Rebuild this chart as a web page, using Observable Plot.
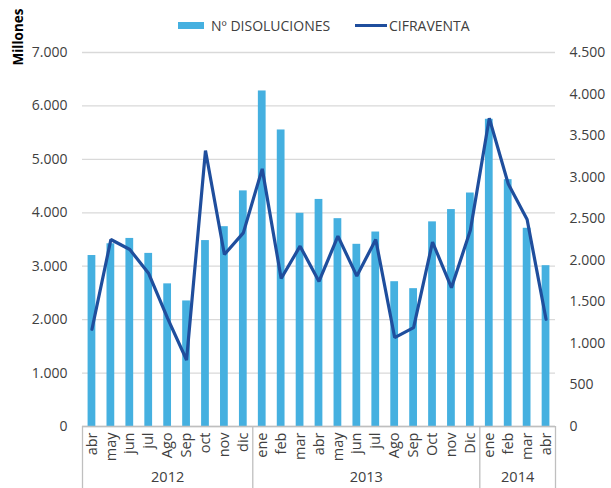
<!DOCTYPE html>
<html>
<head>
<meta charset="utf-8">
<script src="https://cdn.jsdelivr.net/npm/d3@7"></script>
<script src="https://cdn.jsdelivr.net/npm/@observablehq/plot@0.6"></script>
<style>
  html, body { margin: 0; padding: 0; background: #fff; }
  #wrap { position: relative; width: 611px; height: 488px; font-family: "Open Sans", sans-serif; color: #404040; }
  #wrap svg { position: absolute; left: 0; top: 0; }
  .legend { position: absolute; top: 14px; left: 0; font-size: 14px; white-space: nowrap; }
  .lg-item { position: absolute; top: 0; display: flex; align-items: center; height: 22px; }
  .sw-bar { width: 26px; height: 7px; background: #45b0e0; margin-right: 7px; }
  .sw-line { width: 32px; height: 3px; background: #1f4e9d; margin-right: 2px; }
  .ylab { position: absolute; left: 18px; top: 37px; transform: translate(-50%, -50%) rotate(-90deg); font-weight: bold; font-size: 13.5px; color: #000; white-space: nowrap; }
</style>
</head>
<body>
<div id="wrap">
  <div class="legend">
    <div class="lg-item" style="left:178px"><span class="sw-bar"></span><span>Nº DISOLUCIONES</span></div>
    <div class="lg-item" style="left:355px"><span class="sw-line"></span><span>CIFRAVENTA</span></div>
  </div>
  <div class="ylab">Millones</div>
</div>
<script>
const months = ["abr","may","jun","jul","Ago","Sep","oct","nov","dic",
                "ene","feb","mar","abr","may","jun","jul","Ago","Sep","Oct","nov","Dic",
                "ene","feb","mar","abr"];
const yearOf = ["2012","2012","2012","2012","2012","2012","2012","2012","2012",
                "2013","2013","2013","2013","2013","2013","2013","2013","2013","2013","2013","2013",
                "2014","2014","2014","2014"];
const disoluciones = [3200,3420,3520,3240,2670,2350,3480,3740,4410,
                      6280,5550,3990,4250,3890,3410,3640,2710,2580,3830,4060,4370,
                      5750,4620,3710,3010];
const cifraventa = [1170,2250,2130,1840,1300,800,3320,2070,2330,
                    3100,1780,2170,1745,2290,1810,2250,1070,1190,2220,1670,2360,
                    3710,2920,2490,1290];
const leftTicks = [0,1000,2000,3000,4000,5000,6000,7000];
const rightTicks = [0,500,1000,1500,2000,2500,3000,3500,4000,4500];

const W = 611, H = 488, mL = 82, mR = 56, mT = 52, mB = 62;
const leftMax = 7000, rightMax = 4500, k = leftMax / rightMax;
const step = (W - mL - mR) / months.length;
const plotH = H - mT - mB;
const yBottom = -leftMax * mB / plotH;

const data = months.map((m, i) => ({key: i, month: m, year: yearOf[i], dis: disoluciones[i], cif: cifraventa[i]}));

// year groups
const groups = [];
yearOf.forEach((y, i) => {
  const g = groups[groups.length - 1];
  if (g && g.year === y) g.end = i; else groups.push({year: y, start: i, end: i});
});
const sepKeys = groups.map(g => g.start);

const loc = d3.formatLocale({decimal: ",", thousands: ".", grouping: [3], currency: ["", "€"]});
const fmt = loc.format(",");

const chart = Plot.plot({
  width: W, height: H,
  marginLeft: mL, marginRight: mR, marginTop: mT, marginBottom: mB,
  style: {fontFamily: "Open Sans, sans-serif", fontSize: "14px", color: "#404040", background: "transparent"},
  x: {type: "band", domain: data.map(d => d.key), paddingInner: 0.59, paddingOuter: 0.295, round: false, axis: null},
  y: {domain: [0, leftMax], axis: null},
  marks: [
    Plot.gridY(leftTicks, {stroke: "#d9d9d9", strokeOpacity: 1, strokeWidth: 1.3}),
    Plot.barY(data, {x: "key", y: "dis", fill: "#45b0e0"}),
    Plot.line(data, {x: "key", y: d => d.cif * k, stroke: "#1f4e9d", strokeWidth: 3.2, strokeLinejoin: "miter"}),
    Plot.ruleY([0], {stroke: "#bfbfbf", strokeWidth: 1.3}),
    // group separators (start of each group) and right end
    Plot.ruleX(sepKeys, {x: d => d, y1: 0, y2: yBottom, dx: -step / 2, stroke: "#bfbfbf", strokeWidth: 1.3, clip: false}),
    Plot.ruleX([months.length - 1], {x: d => d, y1: 0, y2: yBottom, dx: step / 2, stroke: "#bfbfbf", strokeWidth: 1.3, clip: false}),
    Plot.axisX({anchor: "bottom", tickSize: 0, tickPadding: 6, tickRotate: -90, tickFormat: i => months[i], label: null, fontSize: 14.5, fill: "#404040"}),
    ...groups.map(g => {
      const mid = (g.start + g.end) / 2;
      const base = Math.floor(mid);
      return Plot.text([g], {x: () => base, text: "year", frameAnchor: "bottom", dy: 55, dx: (mid - base) * step, fontSize: 14.5, fill: "#404040"});
    }),
    Plot.axisY(leftTicks, {anchor: "left", tickSize: 0, tickPadding: 15, tickFormat: fmt, label: null, fontSize: 14, fill: "#404040"}),
    Plot.axisY(rightTicks.map(v => v * k), {anchor: "right", tickSize: 0, tickPadding: 14, tickFormat: d => fmt(Math.round(d / k)), label: null, fontSize: 14, fill: "#404040"})
  ]
});
document.getElementById("wrap").prepend(chart);
</script>
</body>
</html>
